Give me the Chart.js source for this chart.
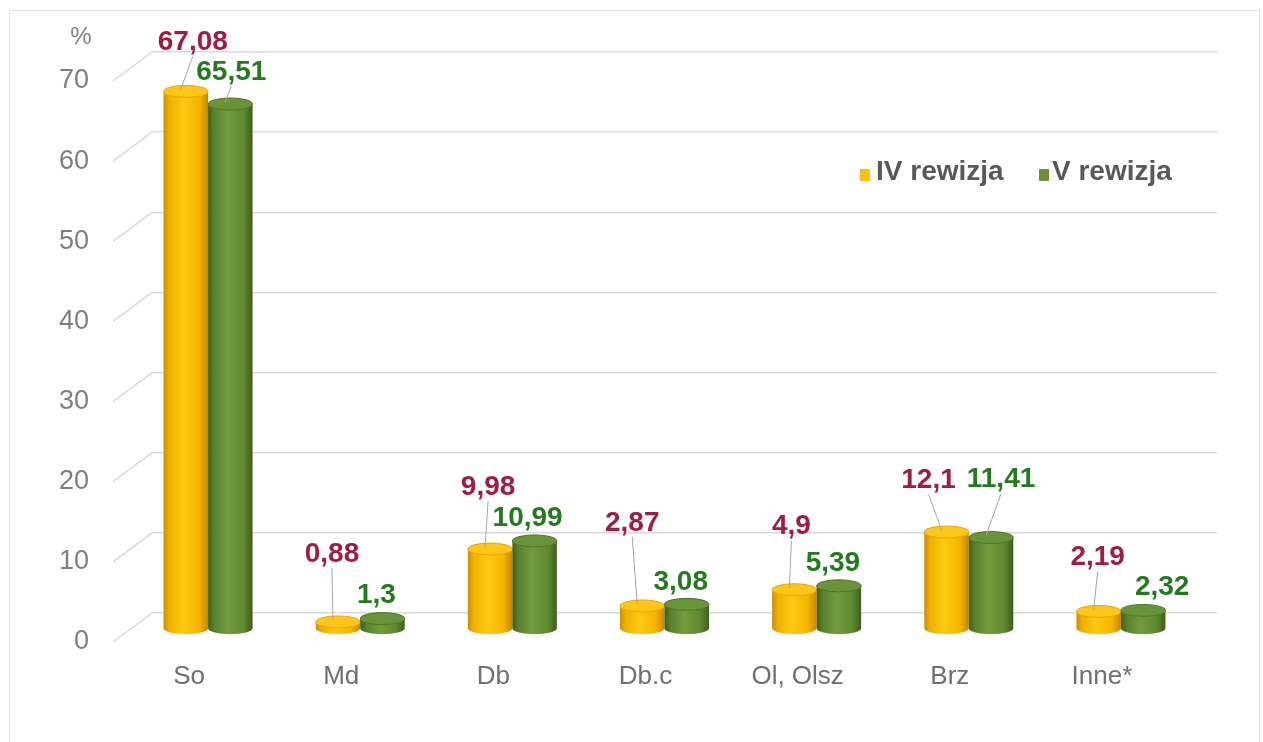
<!DOCTYPE html>
<html>
<head>
<meta charset="utf-8">
<script src="https://cdn.jsdelivr.net/npm/chart.js@4.4.1/dist/chart.umd.min.js"></script>
<style>
  html, body { margin: 0; padding: 0; background: #fff; }
  #wrap { width: 1263px; height: 742px; position: relative; }
</style>
</head>
<body>
<div id="wrap"><canvas id="chart" width="1263" height="742"></canvas></div>
<script>
// data
const categories = ["So", "Md", "Db", "Db.c", "Ol, Olsz", "Brz", "Inne*"];
const rewizjaIV = [67.08, 0.88, 9.98, 2.87, 4.9, 12.1, 2.19];
const rewizjaV = [65.51, 1.3, 10.99, 3.08, 5.39, 11.41, 2.32];
const seriesNames = ["IV rewizja", "V rewizja"];

// where the value labels sit, relative to the top of each cylinder
const labelOffsetIV = [[7, -49], [-6, -68], [-2, -62], [-10, -83], [-3, -63], [-18, -52], [-1, -54]];
const labelOffsetV = [[1, -32], [-6, -23], [-7, -23], [-6, -22], [-6, -23], [10, -58], [19, -23]];
const leaderIV = [true, true, true, true, true, true, true];
const leaderV = [true, false, false, false, false, true, false];

const FONT = "'Liberation Sans', Arial, sans-serif";
// 3d depth: bars sit half way, floor front edge at full depth
const depth = { bx: -20, by: 16, fx: -39, fy: 29 };

const yellowStops = [[0, "#c98e00"], [0.12, "#eeb000"], [0.45, "#ffca12"], [0.8, "#f4b400"], [1, "#c48700"]];
const greenStops = [[0, "#3f6119"], [0.15, "#5b8330"], [0.45, "#719c3e"], [0.8, "#5f8832"], [1, "#3e5e18"]];

function fmt(v) {
  return String(v).replace(".", ",");
}

function cylinder(ctx, cx, top, bottom, w, ry, stops, cap, capEdge) {
  let rx = w / 2;
  let left = cx - rx, right = cx + rx;
  let g = ctx.createLinearGradient(left, 0, right, 0);
  stops.forEach((s) => g.addColorStop(s[0], s[1]));
  ctx.beginPath();
  ctx.moveTo(left, top);
  ctx.lineTo(left, bottom);
  ctx.ellipse(cx, bottom, rx, ry, 0, Math.PI, 0, true);
  ctx.lineTo(right, top);
  ctx.ellipse(cx, top, rx, ry, 0, 0, Math.PI, false);
  ctx.closePath();
  ctx.fillStyle = g;
  ctx.fill();
  // top cap
  ctx.beginPath();
  ctx.ellipse(cx, top, rx, ry, 0, 0, Math.PI * 2);
  ctx.fillStyle = cap;
  ctx.fill();
  ctx.lineWidth = 1;
  ctx.strokeStyle = capEdge;
  ctx.stroke();
}

const frame3d = {
  id: "frame3d",
  beforeDraw(chart) {
    let ctx = chart.ctx;
    ctx.save();
    ctx.fillStyle = "#fff";
    ctx.fillRect(0, 0, chart.width, chart.height);
    ctx.strokeStyle = "#e3e3e3";
    ctx.lineWidth = 1;
    ctx.strokeRect(9.5, 10.5, 1250, 740);
    // side wall edges from the tick labels up to the back wall
    let y = chart.scales.y;
    let left = chart.chartArea.left;
    ctx.strokeStyle = "#d9d9d9";
    ctx.lineWidth = 1.5;
    y.ticks.forEach((t) => {
      let py = y.getPixelForValue(t.value);
      ctx.beginPath();
      ctx.moveTo(left + depth.fx, py + depth.fy);
      ctx.lineTo(left, py);
      ctx.stroke();
    });
    // unit
    ctx.fillStyle = "#7f7f7f";
    ctx.font = "24px " + FONT;
    ctx.textAlign = "center";
    ctx.textBaseline = "middle";
    ctx.fillText("%", 81, 37);
    ctx.restore();
  },
  afterDatasetsDraw(chart) {
    let ctx = chart.ctx;
    ctx.save();
    let m0 = chart.getDatasetMeta(0).data;
    let m1 = chart.getDatasetMeta(1).data;
    let tops = [[], []];
    for (let i = 0; i < categories.length; i++) {
      [m0[i], m1[i]].forEach((bar, k) => {
        let cx = bar.x + depth.bx;
        let top = bar.y + depth.by;
        let bottom = bar.base + depth.by;
        if (k == 0) cylinder(ctx, cx, top, bottom, bar.width, 6, yellowStops, "#ffc61a", "#e8a400");
        else cylinder(ctx, cx, top, bottom, bar.width, 6, greenStops, "#6a943a", "#4d7225");
        tops[k].push([cx, top]);
      });
    }
    // value labels with leader lines
    ctx.font = "bold 28px " + FONT;
    ctx.textAlign = "center";
    ctx.textBaseline = "middle";
    [[rewizjaIV, labelOffsetIV, leaderIV, "#a01c44"], [rewizjaV, labelOffsetV, leaderV, "#237a1f"]].forEach((s, k) => {
      s[0].forEach((v, i) => {
        let t = tops[k][i];
        let lx = t[0] + s[1][i][0];
        let ly = t[1] + s[1][i][1];
        if (s[2][i]) {
          ctx.strokeStyle = "#a6a6a6";
          ctx.lineWidth = 1;
          ctx.beginPath();
          ctx.moveTo(lx, ly + 14);
          ctx.lineTo(t[0] - 5, t[1] - 2);
          ctx.stroke();
        }
        ctx.fillStyle = s[3];
        ctx.fillText(fmt(v), lx, ly);
      });
    });
    // legend
    ctx.font = "bold 28px " + FONT;
    ctx.textAlign = "left";
    ctx.fillStyle = "#ffc000";
    ctx.fillRect(860, 169, 10, 12);
    ctx.fillStyle = "#595959";
    ctx.fillText(seriesNames[0], 876, 172);
    ctx.fillStyle = "#6e8f3a";
    ctx.fillRect(1039, 169, 10, 12);
    ctx.fillStyle = "#595959";
    ctx.fillText(seriesNames[1], 1052, 172);
    ctx.restore();
  },
};

const config = {
  type: "bar",
  data: {
    labels: categories,
    datasets: [
      { label: seriesNames[0], data: rewizjaIV, backgroundColor: "rgba(0,0,0,0)", borderWidth: 0 },
      { label: seriesNames[1], data: rewizjaV, backgroundColor: "rgba(0,0,0,0)", borderWidth: 0 },
    ],
  },
  options: {
    responsive: false,
    animation: false,
    categoryPercentage: 0.585,
    barPercentage: 1,
    layout: { padding: { top: 52, right: 46, left: 0, bottom: 0 } },
    scales: {
      x: {
        grid: { display: false },
        border: { display: false },
        ticks: {
          color: "#6f6f6f",
          font: { family: FONT, size: 26 },
          labelOffset: depth.fx,
          padding: 40,
          maxRotation: 0,
          autoSkip: false,
        },
        afterFit: (scale) => { scale.height = 129; scale.paddingLeft = 0; scale.paddingRight = 0; },
      },
      y: {
        min: 0,
        max: 70,
        grid: { color: "#d9d9d9", lineWidth: 1.5, drawTicks: false },
        border: { display: false },
        ticks: {
          stepSize: 10,
          color: "#7f7f7f",
          font: { family: FONT, size: 27 },
          labelOffset: depth.fy,
          padding: 63,
        },
        afterFit: (scale) => { scale.width = 152; scale.paddingTop = 0; scale.paddingBottom = 0; },
      },
    },
    plugins: {
      legend: { display: false },
      tooltip: { enabled: false },
    },
  },
  plugins: [frame3d],
};

let chart = new Chart(document.getElementById("chart"), config);
</script>
</body>
</html>
